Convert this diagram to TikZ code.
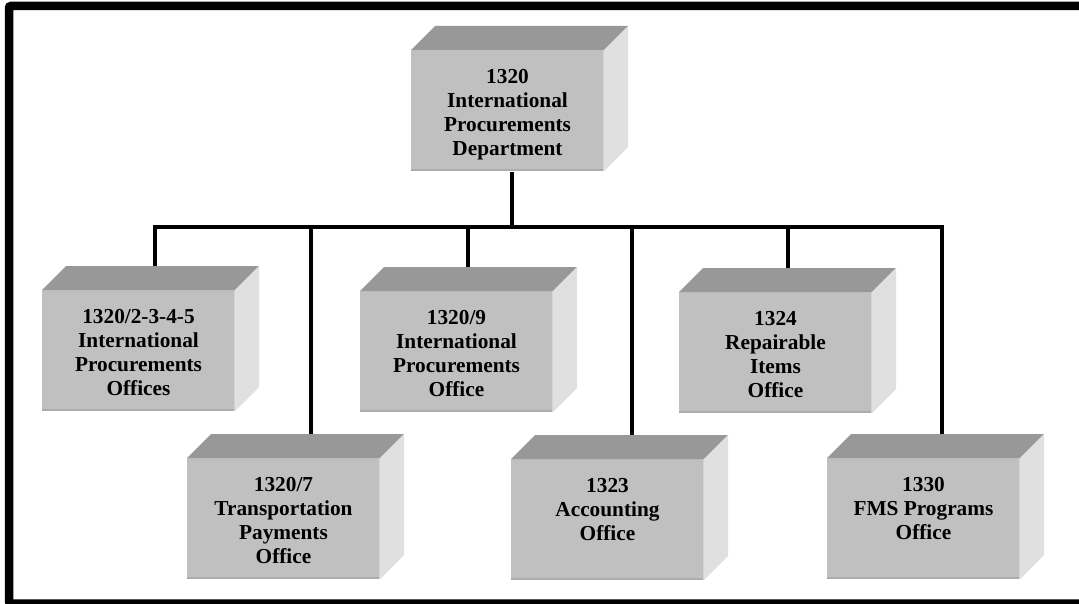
\documentclass[tikz,border=0pt]{standalone}
\usepackage{fontspec}
\setmainfont{Liberation Serif}
\usetikzlibrary{calc}

\definecolor{boxfront}{RGB}{192,192,192}
\definecolor{boxtop}{RGB}{152,152,152}
\definecolor{boxside}{RGB}{224,224,224}
\definecolor{boxedge}{RGB}{172,172,172}
\definecolor{boxlight}{RGB}{212,212,212}

\tikzset{
  front/.style={fill=boxfront, draw=none, minimum width=193pt, minimum height=121pt,
    inner sep=0pt, outer sep=0pt, anchor=north west},
  boxtext/.style={font=\fontsize{21.3}{24.2}\selectfont\bfseries, align=center,
    anchor=north, inner sep=0pt},
  link/.style={line width=4pt},
  frame/.style={line width=8.5pt, rounded corners=2pt},
}

% cube: name, x, y (top-left corner of the front face), text
\newcommand\orgcube[4]{%
  \node[front] (#1) at (#2,#3) {};
  \fill[boxtop] (#1.north west) -- ++(24,-24) -- ($(#1.north east)+(24,-24)$)
    -- (#1.north east) -- cycle;
  \fill[boxside] (#1.north east) -- ++(24,-24) -- ($(#1.south east)+(24,-24)$)
    -- (#1.south east) -- cycle;
  \draw[boxedge, line width=2pt] ($(#1.south west)+(0,-1)$) -- ($(#1.south east)+(0,-1)$);
  \draw[boxlight, line width=1.5pt] ($(#1.north east)+(-0.75,0)$) -- ($(#1.south east)+(-0.75,0)$);
  \node[boxtext] (#1-text) at ($(#1.north)+(0,19)$) {#4};
}

\begin{document}
\begin{tikzpicture}[x=1pt, y=-1pt]
  \useasboundingbox (0,0) rectangle (1079,604);
  \clip (0,0) rectangle (1079,604);
  \fill[white] (0,0) rectangle (1079,604);

  % outer frame
  \draw[frame] (9,6) rectangle (1092,603.5);

  % department and offices
  \orgcube{dept}{411}{50}{1320\\International\\Procurements\\Department}
  \orgcube{ipo}{42}{290}{1320/2-3-4-5\\International\\Procurements\\Offices}
  \orgcube{ipnine}{360}{291}{1320/9\\International\\Procurements\\Office}
  \orgcube{rep}{679}{292}{1324\\Repairable\\Items\\Office}
  \orgcube{trans}{187}{458}{1320/7\\Transportation\\Payments\\Office}
  \orgcube{acc}{511}{459}{1323\\Accounting\\Office}
  \orgcube{fms}{827}{458}{1330\\FMS Programs\\Office}

  % bus and attachment points
  \coordinate (deptlink) at (512,172);
  \coordinate (busdept) at (512,227);
  \coordinate (busL) at (155,227);
  \coordinate (busR) at (942,227);
  \coordinate (bustrans) at (311,227);
  \coordinate (busipnine) at (468,227);
  \coordinate (busacc) at (632,227);
  \coordinate (busrep) at (788,227);

  \coordinate (ipoTop) at (155,266);
  \coordinate (transTop) at (311,434);
  \coordinate (ipnineTop) at (468,267);
  \coordinate (accTop) at (632,435);
  \coordinate (repTop) at (788,268);
  \coordinate (fmsTop) at (942,434);

  \draw[link] (deptlink) -- (busdept);
  \draw[link, line cap=rect] (busL) -- (busR);
  \draw[link] (busL) -- (ipoTop);
  \draw[link] (bustrans) -- (transTop);
  \draw[link] (busipnine) -- (ipnineTop);
  \draw[link] (busacc) -- (accTop);
  \draw[link] (busrep) -- (repTop);
  \draw[link] (busR) -- (fmsTop);
\end{tikzpicture}
\end{document}
